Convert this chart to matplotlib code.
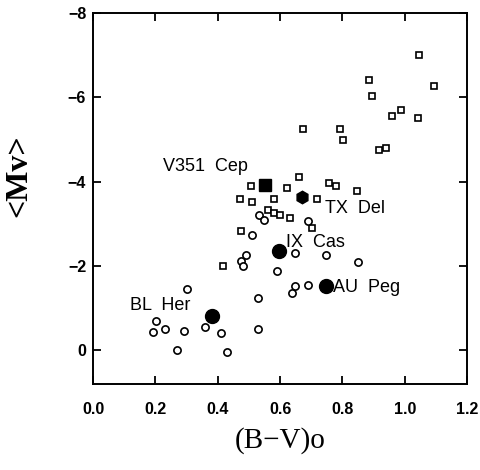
import numpy as np
import matplotlib.pyplot as plt

# open squares
sq_bv = [1.045, 0.885, 1.093, 0.894, 0.987, 0.958, 1.042, 0.673, 0.792, 0.801,
         0.917, 0.939, 0.660, 0.506, 0.622, 0.756, 0.779, 0.846, 0.471, 0.510,
         0.580, 0.718, 0.561, 0.580, 0.599, 0.631, 0.702, 0.474, 0.417]
sq_mv = [-7.01, -6.42, -6.26, -6.04, -5.71, -5.57, -5.52, -5.26, -5.24, -5.00,
         -4.76, -4.79, -4.12, -3.91, -3.86, -3.98, -3.89, -3.79, -3.58, -3.51,
         -3.60, -3.58, -3.34, -3.25, -3.22, -3.15, -2.89, -2.84, -2.01]

# open circles
ci_bv = [0.532, 0.548, 0.689, 0.510, 0.490, 0.474, 0.481, 0.647, 0.747, 0.590,
         0.849, 0.647, 0.638, 0.689, 0.301, 0.529, 0.202, 0.231, 0.192, 0.292,
         0.359, 0.410, 0.529, 0.269, 0.429]
ci_mv = [-3.22, -3.08, -3.06, -2.73, -2.27, -2.13, -1.99, -2.30, -2.27, -1.87,
         -2.09, -1.52, -1.37, -1.54, -1.45, -1.23, -0.69, -0.50, -0.43, -0.45,
         -0.55, -0.40, -0.50, 0.00, 0.05]

# named stars
named = ["V351  Cep", "TX  Del", "IX  Cas", "AU  Peg", "BL  Her"]
named_bv = [0.551, 0.670, 0.596, 0.747, 0.381]
named_mv = [-3.93, -3.63, -2.35, -1.52, -0.81]
named_marker = ["s", "h", "o", "o", "o"]
label_bv = [0.225, 0.745, 0.620, 0.770, 0.117]
label_mv = [-4.36, -3.36, -2.56, -1.49, -1.07]

xticks = [0.0, 0.2, 0.4, 0.6, 0.8, 1.0, 1.2]
yticks = [-8, -6, -4, -2, 0]

fig = plt.figure(figsize=(4.8, 4.7), dpi=100)
ax = fig.add_axes([0.194, 0.183, 0.779, 0.789])

ax.plot(sq_bv, sq_mv, linestyle='none', marker='s', markersize=4.3,
        markerfacecolor='white', markeredgecolor='black', markeredgewidth=1.2)
ax.plot(ci_bv, ci_mv, linestyle='none', marker='o', markersize=5.2,
        markerfacecolor='white', markeredgecolor='black', markeredgewidth=1.2)

for name, x, y, m, lx, ly in zip(named, named_bv, named_mv, named_marker, label_bv, label_mv):
    ax.plot([x], [y], linestyle='none', marker=m,
            markersize=10 if m == 'o' else 9, color='black')
    ax.text(lx, ly, name, fontsize=13, family='Liberation Sans',
            ha='left', va='center')

ax.set_xlim(0.0, 1.2)
ax.set_ylim(0.8, -8)
ax.set_xticks(xticks)
ax.set_yticks(yticks)
ax.set_xticklabels(['%.1f' % v for v in xticks])
ax.set_yticklabels([('\u2212%d' % -v) if v < 0 else '%d' % v for v in yticks])

for lab in ax.get_xticklabels() + ax.get_yticklabels():
    lab.set_family('Liberation Sans')
    lab.set_fontweight('bold')
    lab.set_fontsize(11.5)

ax.tick_params(direction='in', length=6, width=1.3, top=True, right=True)
ax.tick_params(axis='x', pad=13)
ax.tick_params(axis='y', pad=5)
for s in ax.spines.values():
    s.set_linewidth(1.4)

ax.set_xlabel('(B\u2212V)o', fontsize=21, family='Liberation Serif')
ax.set_ylabel('<Mv>', fontsize=23, family='Liberation Serif', fontweight='bold')
ax.xaxis.set_label_coords(0.5, -0.115)
ax.yaxis.set_label_coords(-0.16, 0.563)

fig.savefig('out.png', dpi=100)
